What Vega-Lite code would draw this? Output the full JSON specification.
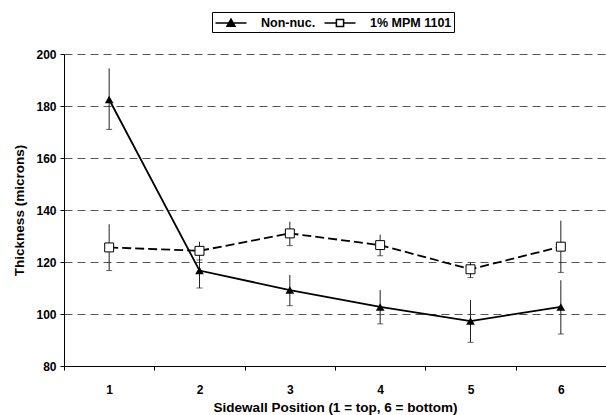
{
  "$schema": "https://vega.github.io/schema/vega-lite/v6.json",
  "autosize": "none",
  "width": 542,
  "height": 312,
  "padding": {"left": 64, "top": 54, "right": 0, "bottom": 49},
  "background": "white",
  "config": {
    "font": "Liberation Sans",
    "view": {"stroke": null},
    "axis": {"labelFont": "Liberation Sans", "titleFont": "Liberation Sans", "labelFontWeight": "bold", "titleFontWeight": "bold", "labelColor": "black", "titleColor": "black", "domainColor": "black", "tickColor": "black", "labelFontSize": 12, "titleFontSize": 13.5}
  },
  "data": {
    "values": [
      {"pos": "1", "series": "Non-nuc.", "mean": 182.5, "lo": 171.0, "hi": 194.5},
      {"pos": "2", "series": "Non-nuc.", "mean": 116.7, "lo": 110.0, "hi": 123.5},
      {"pos": "3", "series": "Non-nuc.", "mean": 109.2, "lo": 103.2, "hi": 115.0},
      {"pos": "4", "series": "Non-nuc.", "mean": 102.7, "lo": 96.2, "hi": 109.2},
      {"pos": "5", "series": "Non-nuc.", "mean": 97.3, "lo": 89.1, "hi": 105.4},
      {"pos": "6", "series": "Non-nuc.", "mean": 102.7, "lo": 92.3, "hi": 113.0},
      {"pos": "1", "series": "1% MPM 1101", "mean": 125.6, "lo": 116.7, "hi": 134.5},
      {"pos": "2", "series": "1% MPM 1101", "mean": 124.3, "lo": 120.8, "hi": 127.8},
      {"pos": "3", "series": "1% MPM 1101", "mean": 131.0, "lo": 126.3, "hi": 135.5},
      {"pos": "4", "series": "1% MPM 1101", "mean": 126.5, "lo": 122.4, "hi": 130.5},
      {"pos": "5", "series": "1% MPM 1101", "mean": 117.2, "lo": 114.0, "hi": 119.8},
      {"pos": "6", "series": "1% MPM 1101", "mean": 125.9, "lo": 116.0, "hi": 135.9}
    ]
  },
  "encoding": {
    "x": {
      "field": "pos", "type": "ordinal",
      "scale": {"type": "band", "paddingInner": 0, "paddingOuter": 0},
      "axis": {"title": "Sidewall Position (1 = top, 6 = bottom)", "labelAngle": 0, "tickBand": "extent", "tickSize": 4, "labelPadding": 14, "titlePadding": 5}
    }
  },
  "layer": [
    {
      "mark": {"type": "rule", "color": "#222", "strokeWidth": 1},
      "encoding": {
        "y": {"field": "lo", "type": "quantitative", "scale": {"domain": [80, 200], "nice": false, "zero": false},
          "axis": {"title": "Thickness (microns)", "values": [80, 100, 120, 140, 160, 180, 200], "tickSize": 4, "labelPadding": 4, "titlePadding": 9,
            "grid": true, "gridColor": "#555", "gridDash": [8, 5], "gridWidth": 1}},
        "y2": {"field": "hi"}
      }
    },
    {
      "mark": {"type": "tick", "color": "#222", "size": 6, "thickness": 1, "orient": "horizontal"},
      "encoding": {"y": {"field": "lo", "type": "quantitative"}}
    },
    {
      "transform": [{"filter": "datum.series === 'Non-nuc.'"}],
      "mark": {"type": "line", "color": "black", "strokeWidth": 1.8},
      "encoding": {"y": {"field": "mean", "type": "quantitative"}}
    },
    {
      "transform": [{"filter": "datum.series === '1% MPM 1101'"}],
      "mark": {"type": "line", "color": "black", "strokeWidth": 1.8, "strokeDash": [9, 4]},
      "encoding": {"y": {"field": "mean", "type": "quantitative"}}
    },
    {
      "transform": [{"filter": "datum.series === 'Non-nuc.'"}],
      "mark": {"type": "point", "shape": "triangle-up", "filled": true, "color": "black", "size": 75, "opacity": 1},
      "encoding": {"y": {"field": "mean", "type": "quantitative"}}
    },
    {
      "transform": [{"filter": "datum.series === '1% MPM 1101'"}],
      "mark": {"type": "point", "shape": "square", "filled": true, "fill": "white", "stroke": "black", "strokeWidth": 1, "size": 80, "opacity": 1},
      "encoding": {"y": {"field": "mean", "type": "quantitative"}}
    },
    {
      "mark": {"type": "point", "filled": true, "stroke": "black", "strokeWidth": 1.5, "opacity": 0},
      "encoding": {
        "y": {"field": "mean", "type": "quantitative"},
        "shape": {"field": "series", "type": "nominal",
          "scale": {"domain": ["Non-nuc.", "1% MPM 1101"], "range": ["M-1.94,0H1.94M0,-0.5L0.5,0.42H-0.5Z", "M-1.94,0H-0.45M0.45,0H1.94M-0.45,-0.45H0.45V0.45H-0.45Z"]},
          "legend": {"title": null, "orient": "none", "legendX": 148, "legendY": -42, "direction": "horizontal", "gridAlign": "none",
            "symbolSize": 256, "symbolOpacity": 1, "symbolOffset": 8,
            "labelFont": "Liberation Sans", "labelFontWeight": "bold", "labelFontSize": 12.5, "labelColor": "black",
            "labelOffset": 21, "columnPadding": 5, "padding": 2, "strokeColor": "black", "fillColor": "white", "labelLimit": 200}},
        "fill": {"field": "series", "type": "nominal", "scale": {"domain": ["Non-nuc.", "1% MPM 1101"], "range": ["black", "white"]},
          "legend": {"title": null, "orient": "none", "legendX": 148, "legendY": -42, "direction": "horizontal", "gridAlign": "none",
            "symbolSize": 256, "symbolOpacity": 1, "symbolOffset": 8,
            "labelFont": "Liberation Sans", "labelFontWeight": "bold", "labelFontSize": 12.5, "labelColor": "black",
            "labelOffset": 21, "columnPadding": 5, "padding": 2, "strokeColor": "black", "fillColor": "white", "labelLimit": 200}}
      }
    }
  ]
}
